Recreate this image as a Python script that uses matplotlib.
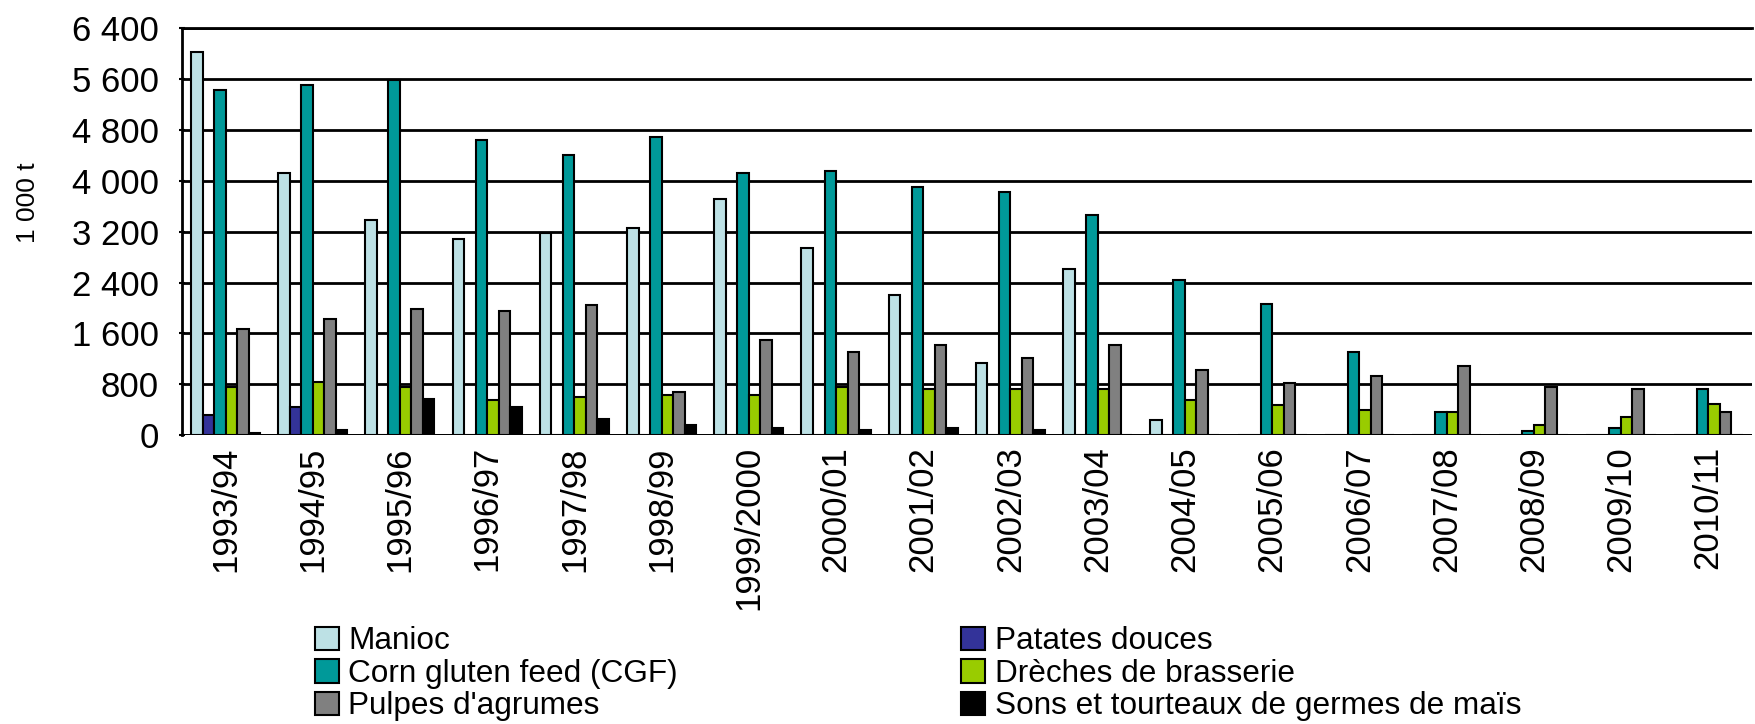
import matplotlib
matplotlib.use('Agg')
import matplotlib.pyplot as plt
import numpy as np

plt.rcParams['font.family'] = ['Liberation Sans', 'DejaVu Sans']

#------------ donnees (1 000 t) ----------
campagnes = ['1993/94', '1994/95', '1995/96', '1996/97', '1997/98', '1998/99',
             '1999/2000', '2000/01', '2001/02', '2002/03', '2003/04', '2004/05',
             '2005/06', '2006/07', '2007/08', '2008/09', '2009/10', '2010/11']

manioc   = [6030, 4120, 3380, 3090, 3180, 3260, 3710, 2940, 2200, 1130, 2610, 236,
            0, 0, 0, 0, 0, 0]
patates  = [315, 435, 0, 0, 0, 0, 0, 0, 0, 0, 0, 0, 0, 0, 0, 0, 0, 0]
cgf      = [5430, 5500, 5590, 4640, 4400, 4690, 4120, 4150, 3910, 3830, 3460, 2440,
            2070, 1300, 357, 68, 115, 724]
dreches  = [760, 840, 760, 551, 603, 630, 630, 750, 719, 719, 719, 551,
            472, 393, 357, 152, 283, 483]
pulpes   = [1663, 1825, 1983, 1946, 2041, 682, 1500, 1301, 1421, 1212, 1421, 1018,
            813, 929, 1091, 761, 724, 357]
sons     = [36, 79, 567, 446, 247, 157, 115, 79, 115, 79, 0, 0, 0, 0, 0, 0, 0, 0]

series = [manioc, patates, cgf, dreches, pulpes, sons]
noms = ['Manioc', 'Patates douces', 'Corn gluten feed (CGF)',
        'Drèches de brasserie', "Pulpes d'agrumes",
        'Sons et tourteaux de germes de maïs']
couleurs = ['#BDE1E5', '#333399', '#009999', '#99CC00', '#808080', '#000000']

yticks = np.arange(0, 6401, 800)
ylabels = ['{:,}'.format(v).replace(',', ' ') for v in yticks]

#------------ figure ----------
fig = plt.figure(figsize=(17.56, 7.24), dpi=100)
ax = fig.add_axes([0.1036, 0.399, 0.894, 0.562])

x = np.arange(len(campagnes))
w = 0.132
barres = []
for k, (vals, coul) in enumerate(zip(series, couleurs)):
  b = ax.bar(x + (k - 2.5) * w, vals, w, color=coul, edgecolor='black',
             linewidth=1.5, zorder=3)
  barres.append(b)

ax.set_xlim(-0.5, len(campagnes) - 0.5)
ax.set_ylim(0, 6400)
ax.set_yticks(yticks)
ax.set_yticklabels(ylabels, fontsize=25)
ax.set_xticks(x)
ax.set_xticklabels(campagnes, rotation=90, fontsize=25)
ax.tick_params(axis='x', length=0, pad=8)
ax.tick_params(axis='y', length=5, direction='inout', width=1.5, pad=14)
ax.yaxis.grid(True, color='black', linewidth=2, zorder=0)
for s in ['right', 'bottom']:
  ax.spines[s].set_visible(False)
ax.spines['left'].set_linewidth(2)
ax.spines['top'].set_linewidth(2)
ax.axhline(0, color='black', linewidth=2, zorder=4)

fig.text(0.016, 0.72, '1 000 t', rotation=90, fontsize=19, va='center', ha='center')

# legende en lignes : Manioc / Patates, CGF / Dreches, Pulpes / Sons
ordre = [0, 2, 4, 1, 3, 5]
leg = fig.legend([barres[i] for i in ordre], [noms[i] for i in ordre], ncol=2,
                 loc='lower left', bbox_to_anchor=(0.1668, -0.027), frameon=False,
                 fontsize=22.7, handlelength=0.75, handleheight=0.75,
                 handletextpad=0.3, labelspacing=0.08, columnspacing=9.0,
                 borderpad=0.2)

fig.savefig('out.png', dpi=100)
